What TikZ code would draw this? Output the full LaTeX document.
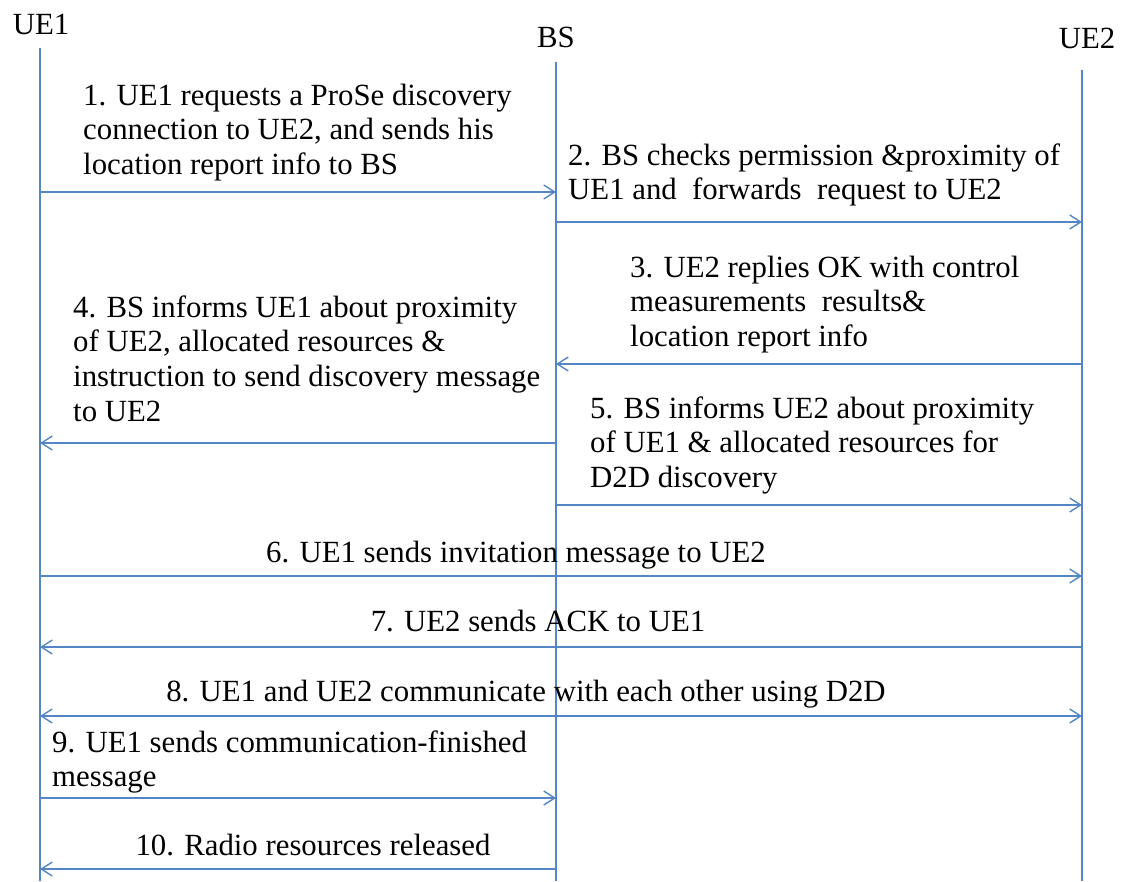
\documentclass[tikz,border=0pt]{standalone}
\usepackage{fontspec}
\setmainfont{Liberation Serif}
\usetikzlibrary{arrows.meta}
\definecolor{lifeblue}{RGB}{84,134,198}
\tikzset{
  lifeline/.style={draw=lifeblue, line width=1.4pt},
  msg/.style={draw=lifeblue, line width=1.4pt,
    -{Straight Barb[length=11pt,width=14pt,line width=1.4pt]}},
  msgboth/.style={draw=lifeblue, line width=1.4pt,
    {Straight Barb[length=11pt,width=14pt,line width=1.4pt]}-{Straight Barb[length=11pt,width=14pt,line width=1.4pt]}},
  lbl/.style={inner sep=0pt, anchor=base west, font=\fontsize{30.8}{34.8}\selectfont},
  clbl/.style={inner sep=0pt, anchor=base, font=\fontsize{30.8}{34.8}\selectfont},
}
% multi-line label whose reference point is the first baseline
\newcommand{\msglines}[1]{\vtop{\baselineskip=34.8pt\halign{##\hfil\cr#1\crcr}}}
\begin{document}
\begin{tikzpicture}[x=1pt,y=-1pt]
\useasboundingbox (0,0) rectangle (1121,881);

% entity headers
\node[clbl] (hUE1) at (41,34) {UE1};
\node[clbl] (hBS)  at (556,47) {BS};
\node[clbl] (hUE2) at (1087,48) {UE2};

% lifelines
\coordinate (ue1) at (40,48);
\coordinate (bs)  at (556,62);
\coordinate (ue2) at (1082,70);
\coordinate (ue1end) at (40,881);
\coordinate (bsend)  at (556,881);
\coordinate (ue2end) at (1082,881);
\draw[lifeline] (ue1) -- (ue1end);
\draw[lifeline] (bs)  -- (bsend);
\draw[lifeline] (ue2) -- (ue2end);

% message labels
\node[lbl] (t1) at (83,105) {\msglines{1. UE1 requests a ProSe discovery\cr connection to UE2, and sends his\cr location report info to BS}};
\node[lbl] (t2) at (568,165) {\msglines{2. BS checks permission \&proximity of\cr UE1 and\ \ forwards\ \ request to UE2}};
\node[lbl] (t3) at (630,277) {\msglines{3. UE2 replies OK with control\cr measurements\ \ results\&\cr location report info}};
\node[lbl] (t4) at (73,317) {\msglines{4. BS informs UE1 about proximity\cr of UE2, allocated resources \&\cr instruction to send discovery message\cr to UE2}};
\node[lbl] (t5) at (590,418) {\msglines{5. BS informs UE2 about proximity\cr of UE1 \& allocated resources for\cr D2D discovery}};
\node[clbl] (t6) at (516,562) {6. UE1 sends invitation message to UE2};
\node[clbl] (t7) at (538,631) {7. UE2 sends ACK to UE1};
\node[clbl] (t8) at (526,701) {8. UE1 and UE2 communicate with each other using D2D};
\node[lbl] (t9) at (52,752) {\msglines{9. UE1 sends communication-finished\cr message}};
\node[clbl] (t10) at (313,855) {10. Radio resources released};

% messages
\draw[msg] (ue1 |- 0,192) -- (bs |- 0,192);
\draw[msg] (bs |- 0,222) -- (ue2 |- 0,222);
\draw[msg] (ue2 |- 0,364) -- (bs |- 0,364);
\draw[msg] (bs |- 0,443) -- (ue1 |- 0,443);
\draw[msg] (bs |- 0,505) -- (ue2 |- 0,505);
\draw[msg] (ue1 |- 0,576) -- (ue2 |- 0,576);
\draw[msg] (ue2 |- 0,647) -- (ue1 |- 0,647);
\draw[msgboth] (ue1 |- 0,716) -- (ue2 |- 0,716);
\draw[msg] (ue1 |- 0,798) -- (bs |- 0,798);
\draw[msg] (bs |- 0,869) -- (ue1 |- 0,869);
\end{tikzpicture}
\end{document}
